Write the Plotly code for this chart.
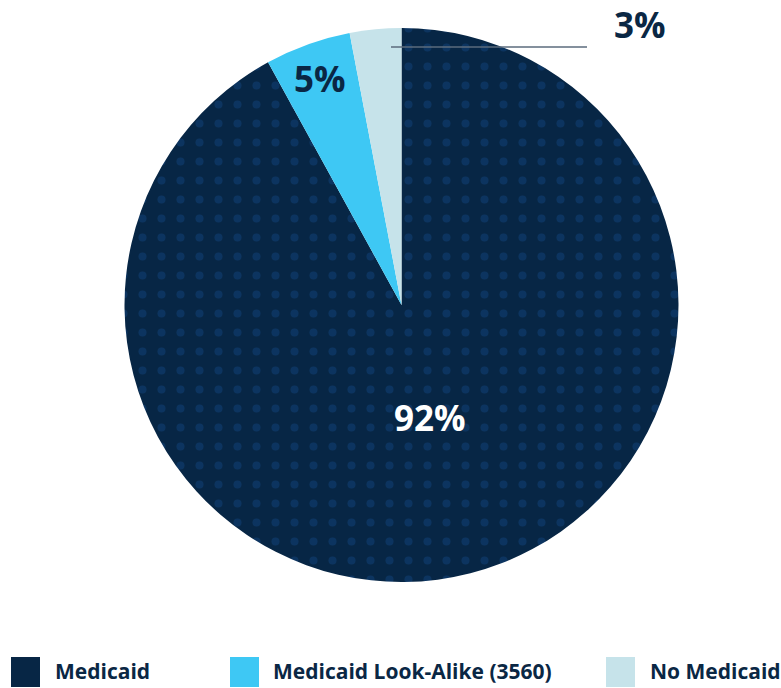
import math
import plotly.graph_objects as go

# Share of responses by Medicaid status
categories = ["Medicaid", "Medicaid Look-Alike (3560)", "No Medicaid"]
shares = [92, 5, 3]
slice_colors = ["#072645", "#3ec8f4", "#c6e3ea"]
label_colors = ["#ffffff", "#0a2744", "#0a2744"]

W, H = 781, 688
CX, CY, R = 401.5, 305.0, 277.0
NAVY = "#0a2744"
FONT = "Open Sans"


def px(x):
    return x / W


def py(y):
    return 1 - y / H


fig = go.Figure(
    go.Pie(
        labels=categories,
        values=shares,
        sort=False,
        direction="clockwise",
        rotation=0,
        textinfo="none",
        hoverinfo="label+percent",
        showlegend=False,
        marker=dict(
            colors=slice_colors,
            line=dict(width=0),
            pattern=dict(
                shape=[".", "", ""],
                fgcolor="#0c3460",
                bgcolor=slice_colors,
                size=19,
                solidity=0.14,
            ),
        ),
        domain=dict(x=[px(CX - R), px(CX + R)], y=[py(CY + R), py(CY - R)]),
    )
)

# Percentage labels, placed along each slice's mid-angle
total = sum(shares)
annotations = []
shapes = []
start = 0.0
radial = [0.42, 0.87, None]
for i, v in enumerate(shares):
    span = 360.0 * v / total
    mid = math.radians(start + span / 2)
    start += span
    text = f"{v}%"
    if radial[i] is not None:
        x = CX + R * radial[i] * math.sin(mid)
        y = CY - R * radial[i] * math.cos(mid)
        annotations.append(dict(
            x=px(x), y=py(y), xref="paper", yref="paper", text=text,
            showarrow=False, xanchor="center", yanchor="middle",
            font=dict(family=FONT, size=35, color=label_colors[i], weight="bold"),
        ))
    else:
        # outside label with a horizontal connector
        shapes.append(dict(
            type="line", xref="paper", yref="paper",
            x0=px(391), y0=py(47), x1=px(587), y1=py(47),
            line=dict(color="#5b6b7c", width=1.5),
        ))
        annotations.append(dict(
            x=px(612), y=py(25), xref="paper", yref="paper", text=text,
            showarrow=False, xanchor="left", yanchor="middle",
            font=dict(family=FONT, size=35, color=label_colors[i], weight="bold"),
        ))

# Legend row along the bottom
legend_box_x = [11, 230, 606]
legend_text_x = [53, 271, 648]
for i, name in enumerate(categories):
    x0 = legend_box_x[i]
    shapes.append(dict(
        type="rect", xref="paper", yref="paper",
        x0=px(x0), x1=px(x0 + 29), y0=py(687), y1=py(657),
        fillcolor=slice_colors[i], line=dict(width=0),
    ))
    annotations.append(dict(
        x=px(legend_text_x[i]), y=py(671), xref="paper", yref="paper", text=name,
        showarrow=False, xanchor="left", yanchor="middle",
        font=dict(family=FONT, size=21, color=NAVY, weight="bold"),
    ))

fig.update_layout(
    width=W, height=H,
    margin=dict(l=0, r=0, t=0, b=0),
    paper_bgcolor="#ffffff",
    plot_bgcolor="#ffffff",
    annotations=annotations,
    shapes=shapes,
)

fig.write_html("out.html")
